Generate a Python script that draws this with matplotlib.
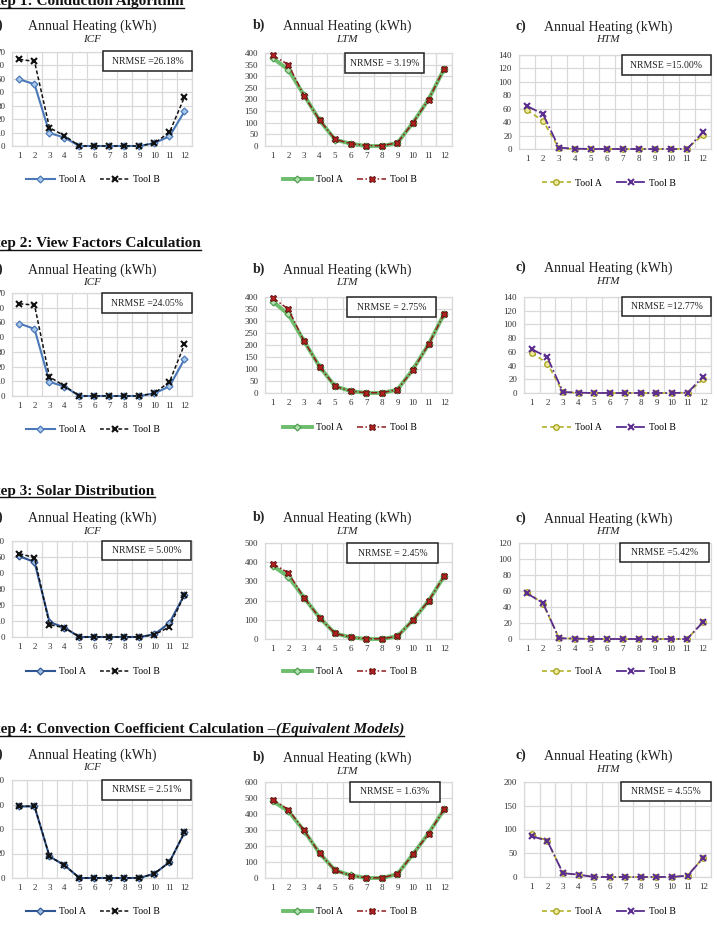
import numpy as np
import matplotlib
matplotlib.use("Agg")
import matplotlib.pyplot as plt
from matplotlib.lines import Line2D
from matplotlib.patches import Rectangle

plt.rcParams['font.family'] = ['Liberation Serif', 'DejaVu Serif']

W, H = 717, 933

# ---------------- data ----------------
months = list(range(1, 13))
month_labels = [str(m) for m in months]

step_titles = ["Step 1: Conduction Algorithm",
               "Step 2: View Factors Calculation",
               "Step 3: Solar Distribution",
               "Step 4: Convection Coefficient Calculation \u2013"]
step4_suffix = "(Equivalent Models)"
panel_letters = ["a)", "b)", "c)"]
model_names = ["ICF", "LTM", "HTM"]
chart_title = "Annual Heating (kWh)"
series_names = ["Tool A", "Tool B"]

# ICF
icf_a_s1 = [49.6, 46.0, 9.7, 6.2, 0, 0, 0, 0, 0, 2.2, 7.2, 25.8]
icf_b_s1 = [64.5, 63.0, 13.6, 7.7, 0, 0, 0, 0, 0, 2.2, 10.2, 36.5]
icf_a_s2 = [49.2, 45.6, 9.6, 6.4, 0, 0, 0, 0, 0, 1.8, 6.6, 25.1]
icf_b_s2 = [62.7, 61.8, 13.0, 6.8, 0, 0, 0, 0, 0, 2.0, 9.6, 35.1]
icf_a_s3 = [50.4, 46.9, 9.4, 5.8, 0, 0, 0, 0, 0, 1.7, 8.8, 26.5]
icf_b_s3 = [52.1, 49.6, 7.7, 5.8, 0, 0, 0, 0, 0, 1.5, 6.3, 26.5]
icf_a_s4 = [58.4, 58.4, 17.6, 10.4, 0, 0, 0, 0, 0, 3.6, 13.0, 37.2]
icf_b_s4 = [58.4, 58.8, 17.6, 10.4, 0, 0, 0, 0, 0, 3.6, 13.0, 37.2]

# LTM
ltm_a_s1 = [378, 328, 219, 111, 27, 10, 0, 0, 13, 101, 201, 332]
ltm_b_s1 = [390, 350, 217, 112, 29, 10, 2, 1, 14, 100, 200, 333]
ltm_a_s2 = [381, 328, 217, 110, 28, 8, 0, 0, 14, 99, 203, 330]
ltm_b_s2 = [397, 349, 217, 110, 28, 8, 1, 1, 14, 97, 203, 330]
ltm_a_s3 = [381, 324, 216, 111, 29, 9, 0, 0, 14, 99, 199, 327]
ltm_b_s3 = [393, 344, 216, 111, 29, 9, 1, 1, 14, 99, 199, 327]
ltm_a_s4 = [480, 418, 296, 155, 48, 17, 0, 0, 25, 149, 280, 429]
ltm_b_s4 = [490, 428, 298, 155, 48, 15, 1, 1, 25, 149, 277, 430]

# HTM
htm_a_s1 = [58, 42, 1, 0, 0, 0, 0, 0, 0, 0, 0.5, 21]
htm_b_s1 = [64, 52, 2, 0.5, 0, 0, 0, 0, 0, 0, 0, 25]
htm_a_s2 = [59, 43, 1, 0.5, 0, 0, 0, 0, 0, 0, 0.5, 20]
htm_b_s2 = [64, 52, 1.5, 0.5, 0, 0, 0, 0, 0, 0, 0.5, 24]
htm_a_s3 = [59, 44, 1, 0.5, 0, 0, 0, 0, 0, 0, 0, 21]
htm_b_s3 = [57, 45, 1, 0.5, 0, 0, 0, 0, 0, 0, 0, 21]
htm_a_s4 = [90, 76, 8, 5, 0, 0, 0, 0, 0, 0, 3, 41]
htm_b_s4 = [86, 76, 8, 5, 0, 0, 0, 0, 0, 0, 3, 40]

series = [
    [(icf_a_s1, icf_b_s1), (ltm_a_s1, ltm_b_s1), (htm_a_s1, htm_b_s1)],
    [(icf_a_s2, icf_b_s2), (ltm_a_s2, ltm_b_s2), (htm_a_s2, htm_b_s2)],
    [(icf_a_s3, icf_b_s3), (ltm_a_s3, ltm_b_s3), (htm_a_s3, htm_b_s3)],
    [(icf_a_s4, icf_b_s4), (ltm_a_s4, ltm_b_s4), (htm_a_s4, htm_b_s4)],
]

y_scales = [
    [(70, 10), (400, 50), (140, 20)],
    [(70, 10), (400, 50), (140, 20)],
    [(60, 10), (500, 100), (120, 20)],
    [(80, 20), (600, 100), (200, 50)],
]

nrmse_labels = [
    ["NRMSE =26.18%", "NRMSE = 3.19%", "NRMSE =15.00%"],
    ["NRMSE =24.05%", "NRMSE = 2.75%", "NRMSE =12.77%"],
    ["NRMSE = 5.00%", "NRMSE = 2.45%", "NRMSE =5.42%"],
    ["NRMSE = 2.51%", "NRMSE = 1.63%", "NRMSE = 4.55%"],
]

# ---------------- layout (pixels) ----------------
axes_px = [
    [(12, 52, 192, 146), (265, 53, 452, 146), (519, 55, 711, 149)],
    [(12, 293, 192, 396), (265, 297, 452, 393), (524, 297, 711, 393)],
    [(12, 541, 192, 637), (265, 543, 452, 639), (519, 543, 711, 639)],
    [(12, 780, 192, 878), (265, 782, 452, 878), (524, 782, 711, 877)],
]
box_px = [
    [(103, 51, 192, 71), (345, 53, 424, 73), (622, 55, 711, 75)],
    [(102, 293, 192, 313), (347, 297, 436, 317), (622, 297, 711, 316)],
    [(102, 541, 191, 560), (347, 543, 438, 563), (620, 543, 709, 562)],
    [(102, 780, 191, 800), (350, 782, 440, 802), (621, 782, 711, 801)],
]
title_y = [(26, 26, 27), (270, 270, 268), (518, 518, 519), (755, 758, 756)]
title_x = (92, 347, 608)
letter_x = (-8, 253, 515)
legend_y = [(180, 180, 183), (430, 428, 428), (672, 672, 672), (912, 912, 912)]
legend_x = (93, 350, 609)
header_base = [5, 247, 495, 733]

styles = {
    "ICF": [dict(color="#4a78b8", lw=1.5, ls="-", marker="D", ms=3.5,
                 mfc="#a9c8ea", mec="#4a78b8", mew=0.9),
            dict(color="#111111", lw=1.1, ls=(0, (2.5, 1.5)), marker="x", ms=4.5,
                 mec="#111111", mew=1.5)],
    "ICF_dark": [dict(color="#2f5592", lw=1.5, ls="-", marker="D", ms=3.5,
                      mfc="#9dbde3", mec="#2f5592", mew=0.9),
                 dict(color="#111111", lw=1.1, ls=(0, (2.5, 1.5)), marker="x", ms=4.5,
                      mec="#111111", mew=1.5)],
    "LTM": [dict(color="#6dbd6d", lw=2.8, ls="-", marker="D", ms=3.5,
                 mfc="#b4e0b4", mec="#4f9f4f", mew=0.9),
            dict(color="#8e1b1b", lw=1.1, ls=(0, (4, 1.5, 1, 1.5)), marker="X", ms=5,
                 mfc="#b32020", mec="#5a0d0d", mew=0.6)],
    "HTM": [dict(color="#b3b027", lw=1.2, ls=(0, (3, 2)), marker="o", ms=4,
                 mfc="#eeeaa0", mec="#a3a01a", mew=0.9),
            dict(color="#5b2d8e", lw=1.3, ls=(0, (6, 1.5, 1, 1.5)), marker="x", ms=4.5,
                 mec="#5b2d8e", mew=1.5)],
}

GRID = "#d9d9d9"

fig = plt.figure(figsize=(W / 100, H / 100), dpi=100)
fig.patch.set_facecolor("white")


def fx(x):
    return x / W


def fy(y):
    return 1 - y / H


for r in range(4):
    for c in range(3):
        l, t, rr, b = axes_px[r][c]
        ax = fig.add_axes([fx(l), fy(b), (rr - l) / W, (b - t) / H])
        ymax, ystep = y_scales[r][c]
        ax.set_xlim(0.5, 12.5)
        ax.set_ylim(0, ymax)
        ax.set_xticks(months)
        ax.set_xticklabels(month_labels)
        ax.set_xticks(np.arange(0.5, 13, 1), minor=True)
        ax.set_yticks(np.arange(0, ymax + ystep / 2, ystep))
        ax.set_yticklabels([str(int(v)) for v in np.arange(0, ymax + ystep / 2, ystep)])
        ax.grid(which="minor", axis="x", color=GRID, lw=0.9)
        ax.grid(which="major", axis="y", color=GRID, lw=0.9)
        ax.set_axisbelow(True)
        ax.tick_params(which="both", length=0, labelsize=6.5, colors="#333333")
        ax.tick_params(axis="x", pad=4.5)
        ax.tick_params(axis="y", pad=5)
        for sp in ax.spines.values():
            sp.set_color(GRID)
            sp.set_linewidth(0.9)
        name = model_names[c]
        key = name
        if name == "ICF" and r >= 2:
            key = "ICF_dark"
        a_vals, b_vals = series[r][c]
        hA, = ax.plot(months, a_vals, clip_on=False, zorder=3, **styles[key][0])
        hB, = ax.plot(months, b_vals, clip_on=False, zorder=4, **styles[key][1])
        ax.legend([hA, hB], series_names, loc="center", ncol=2, frameon=False,
                  bbox_to_anchor=(fx(legend_x[c]), fy(legend_y[r][c])),
                  bbox_transform=fig.transFigure, fontsize=7, handlelength=3.0,
                  columnspacing=1.5, handletextpad=0.4, numpoints=1)

        # NRMSE box
        bl, bt, br, bb = box_px[r][c]
        fig.add_artist(Rectangle((fx(bl), fy(bb)), (br - bl) / W, (bb - bt) / H,
                                 transform=fig.transFigure, facecolor="white",
                                 edgecolor="#222222", lw=1.1, zorder=10))
        fig.text(fx((bl + br) / 2), fy((bt + bb) / 2), nrmse_labels[r][c],
                 ha="center", va="center", fontsize=7, zorder=11, color="#222222")

        # titles
        fig.text(fx(title_x[c]), fy(title_y[r][c]), chart_title, ha="center",
                 va="center", fontsize=10, color="#222222")
        fig.text(fx(title_x[c]), fy(title_y[r][c] + 13), name, ha="center",
                 va="center", fontsize=8, style="italic", color="#222222")
        fig.text(fx(letter_x[c]), fy(title_y[r][c] - 1), panel_letters[c],
                 ha="left", va="center", fontsize=10, weight="bold", color="#222222")

# headers with underline
renderer = fig.canvas.get_renderer()
tmp = fig.text(0, 0, "St", fontsize=11, weight="bold")
st_w = tmp.get_window_extent(renderer).width
tmp.remove()
for r in range(4):
    x0 = -st_w + 1
    t1 = fig.text(fx(x0), fy(header_base[r]), step_titles[r], ha="left",
                  va="baseline", fontsize=11, weight="bold", color="#111111")
    bb1 = t1.get_window_extent(renderer)
    x_end = bb1.x1
    if r == 3:
        t2 = fig.text(bb1.x1 / W, fy(header_base[r]), step4_suffix, ha="left",
                      va="baseline", fontsize=11, weight="bold", style="italic",
                      color="#111111")
        x_end = t2.get_window_extent(renderer).x1
    uy = fy(header_base[r] + 2.5)
    fig.add_artist(Line2D([0, x_end / W], [uy, uy], transform=fig.transFigure,
                          color="#111111", lw=1.0))

fig.savefig("out.png", dpi=100, facecolor="white")
